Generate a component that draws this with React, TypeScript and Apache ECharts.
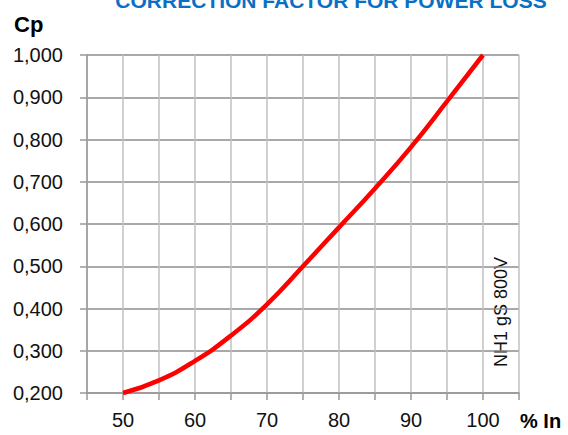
import React, { useEffect, useRef } from "react";
import * as echarts from "echarts";

const xValues = [50, 55, 60, 65, 70, 75, 80, 85, 90, 95, 100];
const cpValues = [0.2, 0.23, 0.276, 0.336, 0.41, 0.5, 0.592, 0.684, 0.782, 0.89, 1.0];
const xLabelsShown = [50, 60, 70, 80, 90, 100];
const titleText = "CORRECTION FACTOR FOR POWER LOSS";
const yName = "Cp";
const xName = "% In";
const noteText = "NH1 gS 800V";

const FONT = "Liberation Sans, Arial, sans-serif";

export default function App() {
  const ref = useRef<HTMLDivElement>(null);
  useEffect(() => {
    if (!ref.current) return;
    const chart = echarts.init(ref.current, undefined, { renderer: "svg" });
    const data = xValues.map((x, i) => [x, cpValues[i]]);
    chart.setOption({
      animation: false,
      backgroundColor: "#ffffff",
      textStyle: { fontFamily: FONT },
      grid: { left: 87, right: 49, top: 55, bottom: 42, containLabel: false },
      xAxis: {
        type: "value",
        min: 45,
        max: 105,
        interval: 5,
        axisLine: { show: true, lineStyle: { color: "#999999", width: 1.5 } },
        axisTick: { show: true, length: 7, lineStyle: { color: "#999999", width: 1.5 } },
        axisLabel: {
          margin: 17,
          fontSize: 20,
          color: "#111111",
          fontFamily: FONT,
          formatter: (v: number) => (xLabelsShown.includes(v) ? String(v) : ""),
        },
        splitLine: { show: true, lineStyle: { color: "#c0c0c0", width: 1.5 } },
      },
      yAxis: {
        type: "value",
        min: 0.2,
        max: 1.0,
        interval: 0.1,
        axisLine: { show: true, lineStyle: { color: "#999999", width: 1.5 } },
        axisTick: { show: true, length: 7, lineStyle: { color: "#999999", width: 1.5 } },
        axisLabel: {
          margin: 24,
          fontSize: 20,
          color: "#111111",
          fontFamily: FONT,
          formatter: (v: number) => v.toFixed(3).replace(".", ","),
        },
        splitLine: { show: true, lineStyle: { color: "#8c8c8c", width: 1.5 } },
      },
      series: [
        {
          type: "line",
          data,
          smooth: 0.5,
          showSymbol: false,
          lineStyle: { color: "#ff0000", width: 4.5 },
        },
      ],
      graphic: [
        {
          type: "text",
          x: 331,
          y: 0,
          style: {
            text: titleText,
            fill: "#0a70c4",
            font: `bold 21px ${FONT}`,
            textAlign: "center",
            textVerticalAlign: "middle",
          },
        },
        {
          type: "text",
          x: 14,
          y: 24,
          style: {
            text: yName,
            fill: "#000000",
            font: `bold 22px ${FONT}`,
            textAlign: "left",
            textVerticalAlign: "middle",
          },
        },
        {
          type: "text",
          x: 520,
          y: 421,
          style: {
            text: xName,
            fill: "#000000",
            font: `bold 20px ${FONT}`,
            textAlign: "left",
            textVerticalAlign: "middle",
          },
        },
        {
          type: "text",
          x: 501,
          y: 312,
          rotation: Math.PI / 2,
          style: {
            text: noteText,
            fill: "#111111",
            font: `18px ${FONT}`,
            textAlign: "center",
            textVerticalAlign: "middle",
          },
        },
      ],
    });
    return () => chart.dispose();
  }, []);
  return (
    <div
      ref={ref}
      style={{ position: "fixed", left: 0, top: 0, width: 568, height: 435, background: "#fff" }}
    />
  );
}
